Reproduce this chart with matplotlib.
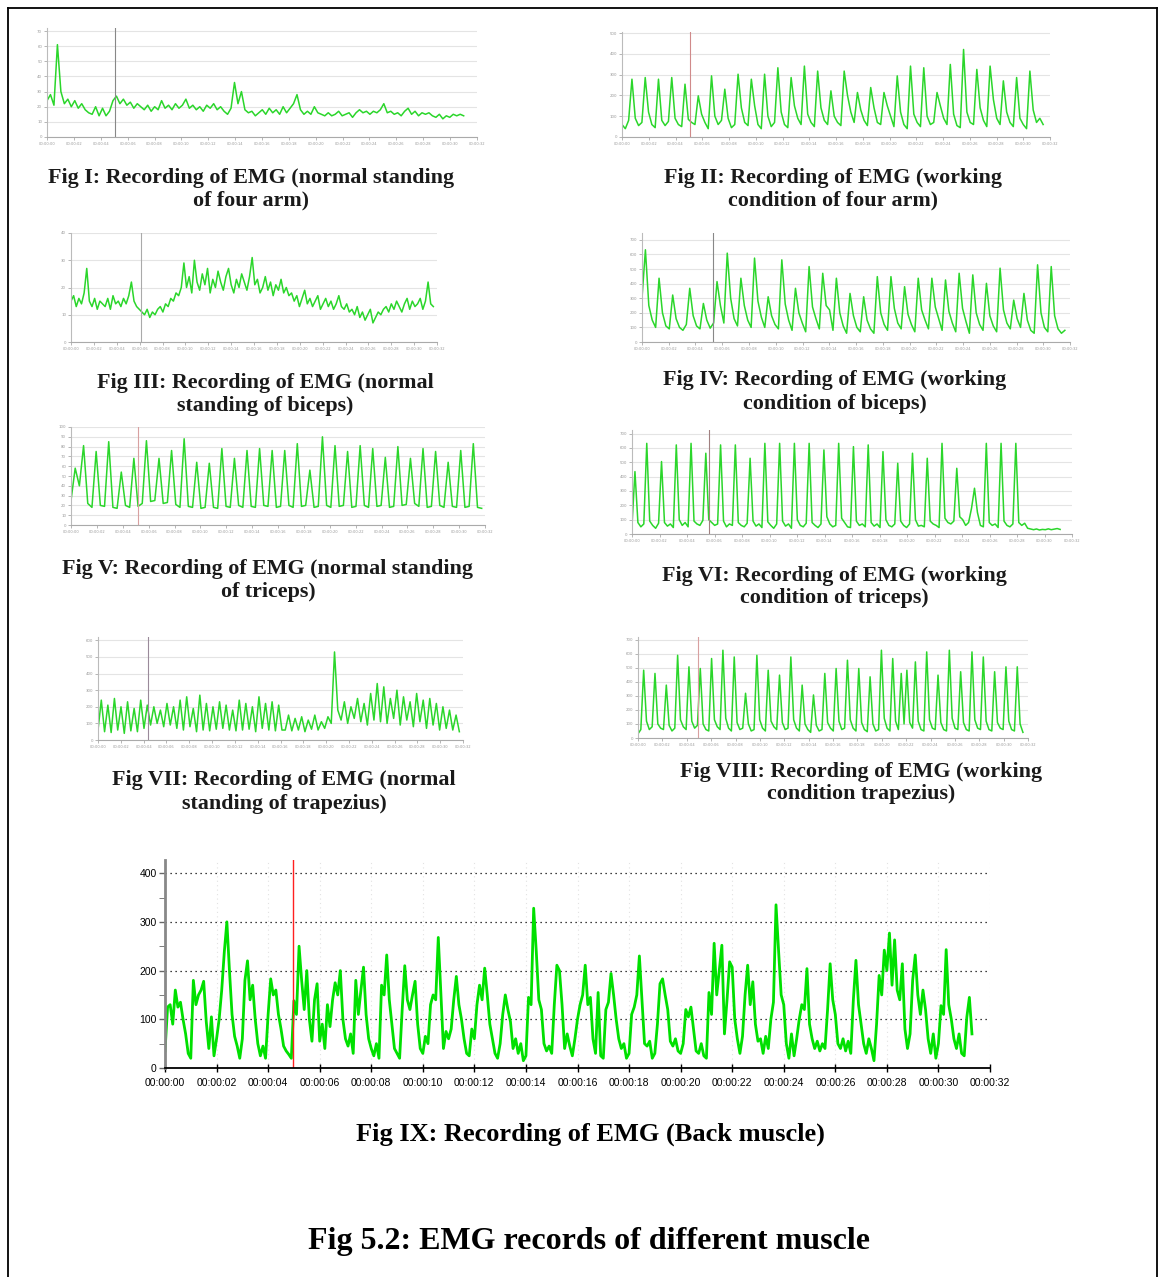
import numpy as np
import matplotlib.pyplot as plt
from matplotlib.lines import Line2D

W, H = 1161, 1277

# ---- small panel traces ----
four_arm_normal = [24, 28, 21, 61, 30, 22, 25, 20, 24, 19, 22, 18, 16, 15, 20, 14, 19, 14, 17, 24,
                   27, 22, 25, 21, 23, 19, 22, 20, 18, 21, 17, 20, 18, 24, 19, 21, 18, 22, 19, 21,
                   25, 19, 21, 18, 20, 17, 21, 19, 22, 18, 20, 17, 15, 19, 36, 22, 30, 18, 16, 17,
                   14, 16, 18, 15, 19, 16, 18, 15, 20, 16, 19, 22, 28, 18, 15, 17, 15, 20, 16, 15,
                   14, 16, 14, 15, 17, 14, 15, 16, 13, 16, 18, 16, 17, 15, 17, 16, 18, 22, 16, 17,
                   15, 16, 14, 17, 19, 15, 17, 14, 16, 15, 16, 14, 13, 15, 12, 14, 13, 15, 14, 15, 14]

four_arm_work = [60, 40, 80,
                 278, 90, 55, 70, 286, 120, 60, 45, 278, 80, 55, 75, 286, 90, 60, 50,
                 254, 85, 70, 60, 198, 110, 70, 40, 294, 100, 60, 80, 230, 90, 45, 60,
                 302, 140, 70, 55, 278, 150, 60, 40, 302, 100, 50, 70, 333, 120, 60, 45,
                 286, 150, 90, 60, 341, 110, 70, 50, 317, 140, 80, 60, 222, 100, 70, 55,
                 317, 200, 120, 70, 214, 130, 80, 55, 238, 140, 70, 60, 214, 150, 100, 50,
                 294, 120, 60, 40, 341, 110, 70, 50, 333, 100, 60, 70, 214, 150, 90, 60,
                 349, 110, 55, 45, 421, 120, 70, 60, 325, 140, 80, 50, 341, 180, 90, 60,
                 270, 120, 70, 50, 286, 90, 60, 40, 317, 130, 70, 90, 60]

biceps_normal = [15, 17, 13, 16, 14, 18, 27, 15, 13, 16, 12, 15, 14, 13, 16, 12, 17, 14, 15, 13,
                 16, 14, 17, 22, 15, 13, 12, 11, 10, 12, 9, 11, 10, 12, 13, 11, 14, 13, 16, 15,
                 18, 17, 20, 29, 20, 24, 18, 30, 22, 19, 25, 21, 27, 18, 23, 20, 26, 22, 19, 24,
                 27, 21, 18, 23, 20, 25, 22, 19, 24, 31, 21, 23, 18, 20, 24, 19, 22, 17, 21, 19,
                 23, 18, 20, 17, 18, 15, 17, 13, 16, 19, 14, 16, 13, 15, 17, 12, 14, 16, 13, 15,
                 12, 14, 17, 13, 12, 14, 11, 12, 10, 13, 9, 11, 8, 10, 12, 7, 9, 11, 10, 12,
                 13, 11, 14, 12, 15, 13, 11, 14, 16, 12, 15, 13, 14, 16, 12, 15, 22, 14, 13]

biceps_work = [300, 632, 250, 150, 100, 437, 200, 110, 90, 322, 160, 100, 80,
               120, 368, 180, 110, 90, 264, 150, 95, 130, 414, 250, 130,
               609, 300, 160, 110, 437, 250, 150, 100, 575, 280, 170, 100,
               310, 180, 120, 90, 563, 260, 150, 80, 368, 200, 130, 70,
               517, 240, 160, 90, 471, 250, 220, 80, 437, 200, 110, 60,
               333, 180, 100, 70, 310, 150, 90, 60, 448, 200, 120, 80,
               448, 230, 130, 90, 379, 190, 120, 70, 437, 220, 150, 90,
               437, 240, 160, 80, 425, 210, 130, 70, 471, 230, 140, 60,
               460, 200, 120, 80, 402, 180, 110, 70, 506, 220, 130, 90,
               287, 160, 100, 333, 150, 80, 60, 529, 200, 100, 70, 517, 180, 90, 60, 80]

triceps_normal = [25, 58, 40, 81, 22, 18, 75, 20, 19, 85, 18, 17, 54, 20, 18, 68, 19, 22, 86, 24,
                  25, 68, 22, 23, 76, 21, 18, 88, 19, 18, 64, 17, 18, 63, 18, 17, 78, 19, 18, 68,
                  20, 18, 76, 19, 18, 78, 20, 19, 76, 18, 19, 76, 20, 18, 83, 19, 20, 56, 18, 19,
                  90, 20, 18, 81, 19, 20, 75, 18, 19, 81, 20, 18, 78, 19, 20, 69, 18, 19, 80, 20,
                  21, 68, 22, 19, 78, 18, 19, 75, 20, 18, 64, 19, 18, 76, 18, 19, 83, 18, 17]

triceps_work = [60, 435, 80, 50, 70, 632, 90, 60, 40, 75, 505, 80, 55, 70, 45,
                621, 100, 60, 80, 50, 632, 90, 70, 60, 95, 563, 100, 80, 60, 70,
                621, 90, 50, 70, 60, 621, 80, 60, 50, 75, 528, 90, 55, 70, 45,
                632, 85, 60, 40, 70, 632, 90, 55, 70, 40, 632, 100, 60, 50, 75,
                632, 80, 60, 45, 70, 586, 120, 70, 50, 60, 632, 110, 80, 50, 45,
                609, 90, 60, 70, 50, 621, 80, 55, 70, 45, 574, 100, 60, 50, 70,
                493, 90, 60, 45, 70, 563, 100, 55, 60, 50, 528, 90, 70, 60, 45,
                632, 110, 80, 70, 90, 458, 120, 100, 60, 80, 180, 319, 150, 60, 50,
                632, 80, 60, 70, 45, 632, 90, 60, 50, 70, 632, 80, 60, 75, 40,
                35, 30, 35, 28, 32, 30, 36, 30, 34, 38, 32]

trapezius_normal = [60, 240, 50, 210, 45, 250, 60, 200, 40, 230, 55, 190, 50, 240, 70, 210, 90, 200, 100, 180,
                    80, 220, 90, 200, 70, 240, 60, 260, 80, 190, 50, 270, 60, 220, 55, 200, 65, 230, 70, 210,
                    60, 180, 55, 240, 60, 220, 65, 200, 50, 260, 70, 220, 60, 230, 55, 210, 60,
                    60, 150, 55, 130, 60, 140, 50, 120, 65, 150, 60, 110, 70, 140,
                    100, 530, 180,
                    120, 230, 100, 200, 130, 250, 110, 220, 90, 280, 120, 340, 110, 320, 100, 250, 130, 300, 90, 260,
                    120, 230, 80, 280, 110, 240, 70, 250, 90, 220, 60, 200, 70, 180, 60, 150, 50]

trapezius_work = [30, 60, 482, 120, 60, 80, 459, 100, 70, 60, 376, 90, 50, 70, 588, 130, 80, 60,
                  506, 120, 70, 90, 494, 100, 60, 50, 565, 130, 80, 60, 624, 140, 70, 50,
                  576, 110, 60, 70, 318, 100, 50, 60, 588, 130, 70, 50, 482, 120, 80, 60,
                  447, 110, 60, 70, 576, 130, 70, 50, 376, 100, 60, 40, 306, 90, 50, 60,
                  459, 110, 70, 50, 494, 120, 60, 70, 553, 130, 70, 50, 494, 110, 60, 45,
                  435, 100, 50, 60, 624, 140, 70, 50, 565, 120, 60, 459, 100, 482, 110, 70,
                  541, 120, 60, 50, 612, 130, 70, 60, 447, 110, 60, 50, 624, 140, 70, 60,
                  471, 110, 60, 50, 612, 130, 70, 60, 576, 120, 60, 50, 471, 110, 70, 60,
                  506, 120, 60, 50, 506, 100, 40]

# ---- Fig IX back muscle, one row per second (0.1 s samples) ----
back_muscle = [35, 125, 130, 90, 160, 125, 135, 100, 70, 30,
               20, 180, 130, 150, 160, 178, 95, 40, 105, 25,
               60, 100, 160, 238, 300, 200, 110, 65, 45, 20,
               60, 180, 220, 140, 170, 100, 50, 25, 45, 20,
               110, 183, 150, 160, 110, 80, 45, 35, 28, 20,
               138, 110, 250, 180, 120, 200, 100, 55, 140, 173,
               55, 90, 40, 130, 85, 140, 175, 150, 200, 100,
               60, 45, 70, 30, 180, 110, 160, 207, 110, 60,
               40, 25, 50, 20, 170, 150, 232, 140, 90, 40,
               30, 20, 120, 210, 140, 120, 150, 178, 90, 40,
               30, 65, 50, 130, 150, 140, 268, 155, 40, 75,
               60, 80, 140, 188, 130, 100, 60, 30, 25, 80,
               60, 130, 170, 140, 205, 150, 90, 60, 30, 20,
               50, 110, 150, 120, 95, 40, 60, 30, 50, 15,
               25, 145, 130, 328, 240, 140, 120, 50, 35, 45,
               30, 130, 211, 200, 130, 40, 70, 45, 25, 60,
               100, 130, 150, 211, 130, 145, 60, 30, 155, 25,
               20, 120, 135, 194, 150, 100, 60, 40, 50, 20,
               30, 110, 125, 150, 230, 140, 50, 45, 55, 20,
               30, 90, 173, 183, 150, 120, 55, 45, 60, 35,
               30, 50, 120, 105, 125, 80, 35, 30, 50, 25,
               20, 155, 110, 256, 150, 200, 252, 70, 140, 218,
               207, 100, 60, 30, 65, 150, 211, 130, 177, 90,
               55, 60, 30, 65, 40, 100, 135, 335, 240, 150,
               130, 50, 20, 70, 25, 60, 100, 130, 120, 204,
               90, 60, 40, 55, 35, 50, 40, 120, 214, 140,
               110, 50, 40, 60, 35, 55, 30, 140, 221, 130,
               90, 50, 30, 60, 40, 15, 90, 190, 150, 242,
               200, 277, 170, 263, 160, 140, 214, 80, 40, 70,
               180, 232, 150, 110, 160, 120, 60, 30, 70, 20,
               50, 128, 110, 243, 130, 100, 60, 40, 70, 30,
               25, 104, 145, 70]

fig = plt.figure(figsize=(W / 100, H / 100), dpi=100)


def box(l, t, r, b):
    return [l / W, 1 - b / H, (r - l) / W, (b - t) / H]


def small_panel(rect, vals, top, step, end_frac, vline, vcolor):
    ax = fig.add_axes(box(*rect))
    t = np.linspace(0, 32 * end_frac, len(vals))
    ax.plot(t, vals, color='#2bd62b', lw=1.1)
    ax.axvline(32 * vline, color=vcolor, lw=0.8)
    ax.set_xlim(0, 32)
    ax.set_ylim(0, top)
    ax.set_yticks(np.arange(0, top + 1, step))
    ax.set_yticklabels([str(v) for v in np.arange(0, top + 1, step)], fontsize=2.8, color='#777')
    ax.set_xticks(np.arange(0, 33, 2))
    ax.set_xticklabels(['00:00:%02d' % s for s in range(0, 33, 2)], fontsize=2.6, color='#666')
    ax.yaxis.grid(True, color='#e4e4e4', lw=0.8)
    ax.set_axisbelow(True)
    ax.tick_params(length=2, width=0.5, pad=1.5, colors='#999')
    for s in ['top', 'right']:
        ax.spines[s].set_visible(False)
    ax.spines['left'].set_color('#bbbbbb')
    ax.spines['bottom'].set_color('#aaaaaa')
    ax.spines['left'].set_linewidth(0.8)
    ax.spines['bottom'].set_linewidth(0.8)
    return ax


small_panel((47, 28, 477, 137), four_arm_normal, 72, 10, 0.969, 0.158, '#888888')
small_panel((622, 32, 1050, 137), four_arm_work, 505, 100, 0.984, 0.158, '#d08a8a')
small_panel((71, 233, 437, 342), biceps_normal, 40, 10, 0.99, 0.19, '#aaaaaa')
small_panel((642, 233, 1070, 342), biceps_work, 747, 100, 0.988, 0.167, '#888888')
small_panel((71, 427, 485, 525), triceps_normal, 100, 10, 0.992, 0.161, '#d8a0a0')
small_panel((632, 430, 1072, 534), triceps_work, 725, 100, 0.973, 0.174, '#a08080')
small_panel((98, 637, 463, 740), trapezius_normal, 620, 100, 0.99, 0.137, '#9a8a9a')
small_panel((638, 637, 1028, 738), trapezius_work, 718, 100, 0.987, 0.154, '#d8a0a0')

cap = dict(ha='center', va='center', fontsize=15.8, fontweight='bold',
           family='Liberation Serif', linespacing=1.2, color='#1a1a1a')
captions = [
    (251, 189, 'Fig I: Recording of EMG (normal standing\nof four arm)'),
    (833, 189, 'Fig II: Recording of EMG (working\ncondition of four arm)'),
    (265, 394, 'Fig III: Recording of EMG (normal\nstanding of biceps)'),
    (835, 392, 'Fig IV: Recording of EMG (working\ncondition of biceps)'),
    (268, 580, 'Fig V: Recording of EMG (normal standing\nof triceps)'),
    (834, 587, 'Fig VI: Recording of EMG (working\ncondition of triceps)'),
    (284, 792, 'Fig VII: Recording of EMG (normal\nstanding of trapezius)'),
    (861, 783, 'Fig VIII: Recording of EMG (working\ncondition trapezius)'),
]
for x, y, s in captions:
    fig.text(x / W, 1 - y / H, s, **cap)

# ---- Fig IX ----
ax = fig.add_axes(box(165, 860, 990, 1068))
tb = np.arange(len(back_muscle)) * 0.1
ax.plot(tb, back_muscle, color='#00e000', lw=2.0)
ax.set_xlim(0, 32)
ax.set_ylim(0, 427)
for v in [100, 200, 300, 400]:
    ax.axhline(v, color='black', lw=0.9, ls=(0, (1, 3)), zorder=0)
for s in range(2, 33, 2):
    ax.axvline(s, color='#e2e2e2', lw=0.8, ls=(0, (1, 3)), zorder=0)
ax.axvline(4.97, color='#ff2020', lw=1.0)
ax.set_yticks([0, 100, 200, 300, 400])
ax.set_yticks([50, 150, 250, 350], minor=True)
ax.set_xticks(np.arange(0, 33, 2))
ax.set_xticklabels(['00:00:%02d' % s for s in range(0, 33, 2)])
ax.tick_params(axis='both', labelsize=7.5, colors='black', width=1)
ax.tick_params(axis='x', direction='inout', length=6, pad=4)
ax.tick_params(axis='y', which='both', direction='out', length=4, pad=2, color='#666666')
for lab in ax.get_xticklabels() + ax.get_yticklabels():
    lab.set_family('Liberation Sans')
for s in ['top', 'right']:
    ax.spines[s].set_visible(False)
ax.spines['left'].set_color('#888888')
ax.spines['left'].set_linewidth(2)
ax.spines['bottom'].set_linewidth(1.3)

fig.text(590 / W, 1 - 1134 / H, 'Fig IX: Recording of EMG (Back muscle)', ha='center', va='center',
         fontsize=19, fontweight='bold', family='Liberation Serif')
fig.text(589 / W, 1 - 1242 / H, 'Fig 5.2: EMG records of different muscle', ha='center', va='center',
         fontsize=23, fontweight='bold', family='Liberation Serif')

# page frame
fr = dict(transform=fig.transFigure, color='black', lw=1.3)
fig.add_artist(Line2D([8 / W, 8 / W], [0, 1 - 8 / H], **fr))
fig.add_artist(Line2D([8 / W, 1157 / W], [1 - 8 / H, 1 - 8 / H], **fr))
fig.add_artist(Line2D([1157 / W, 1157 / W], [0, 1 - 8 / H], **fr))

fig.savefig('out.png', dpi=100)
